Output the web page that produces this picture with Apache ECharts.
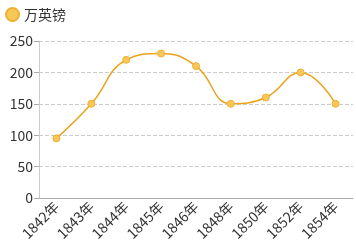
<!DOCTYPE html>
<html><head><meta charset="utf-8">
<script src="https://cdn.jsdelivr.net/npm/echarts@6/dist/echarts.min.js"></script>
<style>html,body{margin:0;padding:0;background:#fff}#c{width:356px;height:251px}</style>
</head><body><div id="c"></div>
<script>
const categories = ['1842年','1843年','1844年','1845年','1846年','1848年','1850年','1852年','1854年'];
const values = [95,150,220,230,210,150,160,200,150];
const seriesName = '万英镑';
const chart = echarts.init(document.getElementById('c'));
const font = '"Noto Sans CJK SC", sans-serif';
chart.setOption({
  animation:false,
  textStyle:{fontFamily:font},
  legend:{left:0,top:2,itemWidth:13,itemHeight:13,itemGap:5,icon:'circle',
    textStyle:{fontSize:14,color:'#333',fontFamily:font},data:[seriesName]},
  grid:{left:39,right:3,top:41,bottom:53,containLabel:false},
  xAxis:{type:'category',data:categories,boundaryGap:true,
    axisLine:{lineStyle:{color:'#aaa'}},axisTick:{alignWithLabel:true,lineStyle:{color:'#aaa'}},
    axisLabel:{rotate:45,fontSize:14,color:'#333',interval:0,margin:6,fontFamily:font}},
  yAxis:{type:'value',min:0,max:250,interval:50,
    axisLine:{show:true,lineStyle:{color:'#ccc'}},axisTick:{show:true,lineStyle:{color:'#aaa'}},
    axisLabel:{fontSize:14,color:'#333',margin:6,fontFamily:font},
    splitLine:{lineStyle:{type:'dashed',color:'#ccc'}}},
  series:[{name:seriesName,type:'line',smooth:0.45,data:values,
    symbol:'circle',symbolSize:7,
    lineStyle:{color:'#eca21d',width:1.5},
    itemStyle:{color:'#f8c75a',borderColor:'#f0b030',borderWidth:1}}]
});
</script></body></html>
